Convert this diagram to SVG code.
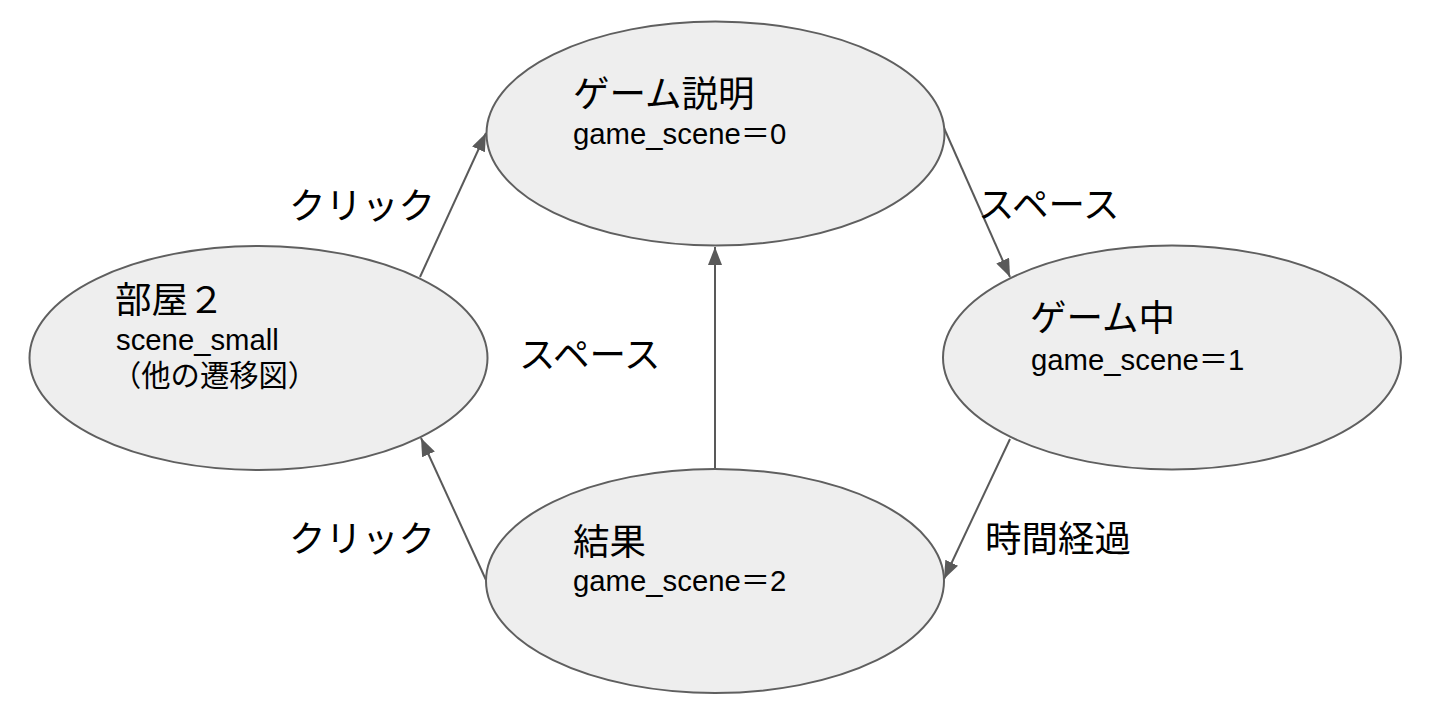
<svg xmlns="http://www.w3.org/2000/svg" width="1434" height="716" viewBox="0 0 1434 716">
<style>
.node{fill:#eeeeee;stroke:#5f5f5f;stroke-width:2}
.t{font-family:"Liberation Sans","Noto Sans CJK JP",sans-serif;fill:#000}
.h{font-size:36.5px}
.s{font-size:29.3px}
.lbl{font-family:"Liberation Sans","Noto Sans CJK JP",sans-serif;font-size:36.5px;fill:#000}
.edge{stroke:#595959;stroke-width:2;fill:none}
</style>
<defs>
<marker id="ah" markerUnits="userSpaceOnUse" markerWidth="20" markerHeight="16" refX="18" refY="7" orient="auto">
<path d="M0,0 L18,7 L0,14 z" fill="#595959"/>
</marker>
</defs>
<rect width="1434" height="716" fill="#fff"/>
<g id="connectors">
<line class="edge" x1="420" y1="277" x2="486" y2="133" marker-end="url(#ah)"/>
<line class="edge" x1="944" y1="128" x2="1010" y2="277" marker-end="url(#ah)"/>
<line class="edge" x1="1010" y1="439" x2="944" y2="579" marker-end="url(#ah)"/>
<line class="edge" x1="486" y1="580" x2="421" y2="438" marker-end="url(#ah)"/>
<line class="edge" x1="715" y1="469" x2="715" y2="247" marker-end="url(#ah)"/>
</g>
<g id="node-setsumei">
<ellipse class="node" cx="715.5" cy="133.5" rx="229" ry="112"/>
<text class="t h" x="573" y="107">ゲーム説明</text>
<text class="t s" x="573" y="144">game_scene＝0</text>
</g>
<g id="node-heya2">
<ellipse class="node" cx="258.5" cy="358" rx="229" ry="112"/>
<text class="t h" x="115" y="313">部屋２</text>
<text class="t s" x="116" y="350">scene_small</text>
<text class="t s" x="112" y="386">（他の遷移図）</text>
</g>
<g id="node-gamechu">
<ellipse class="node" cx="1172" cy="357.5" rx="229" ry="112"/>
<text class="t h" x="1030" y="331">ゲーム中</text>
<text class="t s" x="1031" y="370">game_scene＝1</text>
</g>
<g id="node-kekka">
<ellipse class="node" cx="715" cy="581" rx="229" ry="112"/>
<text class="t h" x="573" y="555">結果</text>
<text class="t s" x="573" y="591">game_scene＝2</text>
</g>
<g id="labels">
<text class="lbl" x="289" y="219">クリック</text>
<text class="lbl" x="978" y="218">スペース</text>
<text class="lbl" x="519" y="368">スペース</text>
<text class="lbl" x="985" y="552">時間経過</text>
<text class="lbl" x="289" y="552">クリック</text>
</g>
</svg>
